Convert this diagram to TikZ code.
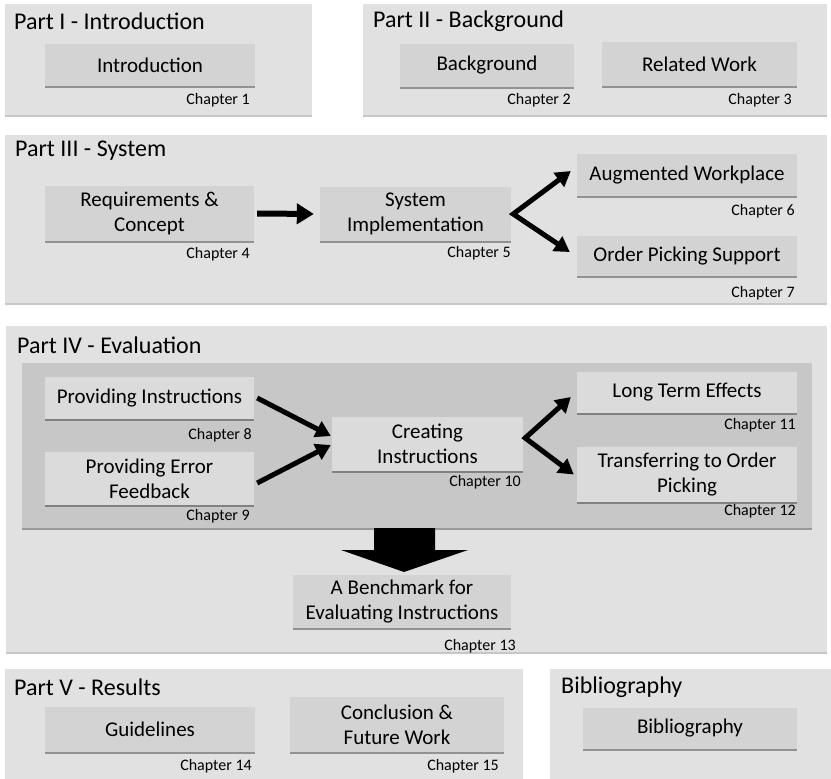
\documentclass[tikz,border=0pt]{standalone}
\usepackage{fontspec}
\setmainfont{Carlito}
\usetikzlibrary{shadows,arrows.meta}

\definecolor{panelgray}{HTML}{E1E1E1}
\definecolor{boxgray}{HTML}{D3D3D3}
\definecolor{innergray}{HTML}{C7C7C7}
\definecolor{innerbox}{HTML}{DBDBDB}

\newcommand\pnTitleFont{\fontsize{24}{28}\selectfont}
\newcommand\pnBoxFont{\fontsize{21}{25}\selectfont}
\newcommand\pnChapFont{\fontsize{16}{19}\selectfont}

\tikzset{
  panel/.style={fill=panelgray, draw=none, anchor=north west, inner sep=0pt,
    drop shadow={shadow xshift=0pt, shadow yshift=-2pt, fill=black, opacity=0.22}},
  darkpanel/.style={panel, fill=innergray,
    drop shadow={shadow xshift=0pt, shadow yshift=-2pt, fill=black, opacity=0.12}},
  chapbox/.style={fill=boxgray, draw=none, align=center, inner sep=0pt,
    font=\pnBoxFont,
    drop shadow={shadow xshift=0pt, shadow yshift=-2pt, fill=black, opacity=0.35}},
  evalbox/.style={chapbox, fill=innerbox},
  chaplabel/.style={anchor=east, font=\pnChapFont, inner sep=0pt},
  parttitle/.style={anchor=west, font=\pnTitleFont, inner sep=0pt},
  flow/.style={line width=5pt, line join=miter, -{Triangle[length=15pt,width=17pt]}},
  forkflow/.style={line width=5pt, line join=miter,
    {Triangle[length=15pt,width=17pt]}-{Triangle[length=15pt,width=17pt]}},
}

\begin{document}
\begin{tikzpicture}[x=1pt,y=-1pt]
\useasboundingbox (0,0) rectangle (831,779);
\fill[white] (0,0) rectangle (831,779);

% ---------- Part I ----------
\node[panel, minimum width=307pt, minimum height=111pt] (p1) at (5,4) {};
\node[parttitle] (p1t) at (14,21) {Part I - Introduction};
\node[chapbox, minimum width=210pt, minimum height=42pt] (intro) at (150,65) {Introduction};
\node[chaplabel] (c1) at (250,100) {Chapter 1};

% ---------- Part II ----------
\node[panel, minimum width=464pt, minimum height=111pt] (p2) at (363,4) {};
\node[parttitle] (p2t) at (373,21) {Part II - Background};
\node[chapbox, minimum width=174pt, minimum height=43pt] (bg) at (487,65) {Background};
\node[chapbox, minimum width=195pt, minimum height=44pt] (rw) at (699.5,64) {Related Work};
\node[chaplabel] (c2) at (571,100) {Chapter 2};
\node[chaplabel] (c3) at (792,100) {Chapter 3};

% ---------- Part III ----------
\node[panel, minimum width=822pt, minimum height=168pt] (p3) at (5,135) {};
\node[parttitle] (p3t) at (15,151) {Part III - System};
\node[chapbox, minimum width=209pt, minimum height=55pt] (req) at (149.5,213.5) {Requirements \&\\Concept};
\node[chapbox, minimum width=191pt, minimum height=54pt] (sys) at (415.5,214) {System\\Implementation};
\node[chapbox, minimum width=220pt, minimum height=42pt] (aug) at (687,175) {Augmented Workplace};
\node[chapbox, minimum width=220pt, minimum height=40pt] (ord) at (687,256) {Order Picking Support};
\node[chaplabel] (c4) at (250,254) {Chapter 4};
\node[chaplabel] (c5) at (511,253) {Chapter 5};
\node[chaplabel] (c6) at (795,211) {Chapter 6};
\node[chaplabel] (c7) at (795,293) {Chapter 7};

\draw[flow, line width=6pt, -{Triangle[length=17pt,width=20pt]}, shorten <=3pt, shorten >=6pt] (req.east) -- (sys.west);
\coordinate (sysfork) at ([xshift=2pt]sys.east);
\coordinate (augtip) at ([xshift=-6pt,yshift=4pt]aug.west);
\coordinate (ordtip) at ([xshift=-7pt,yshift=4pt]ord.west);
\draw[forkflow] (augtip) -- (sysfork) -- (ordtip);

% ---------- Part IV ----------
\node[panel, minimum width=821pt, minimum height=326pt] (p4) at (6,326) {};
\node[parttitle] (p4t) at (17,345) {Part IV - Evaluation};
\node[darkpanel, minimum width=790pt, minimum height=165pt] (inner) at (22,363) {};
\node[evalbox, minimum width=209pt, minimum height=42pt] (prov) at (149.5,398) {Providing Instructions};
\node[evalbox, minimum width=209pt, minimum height=53pt] (err) at (149.5,478.5) {Providing Error\\Feedback};
\node[evalbox, minimum width=191pt, minimum height=54pt] (create) at (427.5,444) {Creating\\Instructions};
\node[evalbox, minimum width=220pt, minimum height=41pt] (long) at (687,392.5) {Long Term Effects};
\node[evalbox, minimum width=220pt, minimum height=55pt] (trans) at (687,474.5) {Transferring to Order\\Picking};
\node[chaplabel] (c8) at (252,435) {Chapter 8};
\node[chaplabel] (c9) at (250,516) {Chapter 9};
\node[chaplabel] (c10) at (521,482) {Chapter 10};
\node[chaplabel] (c11) at (796,425) {Chapter 11};
\node[chaplabel] (c12) at (796,511) {Chapter 12};

\draw[flow] ([xshift=3pt]prov.east) -- ([xshift=-1pt,yshift=8pt]create.west);
\draw[flow] ([xshift=3pt,yshift=-4.5pt]err.east) -- ([xshift=-1pt,yshift=-1pt]create.west);
\coordinate (createfork) at ([xshift=2pt,yshift=6pt]create.east);
\coordinate (longtip) at ([xshift=-6pt,yshift=-4.5pt]long.west);
\coordinate (transtip) at ([xshift=-3pt,yshift=0pt]trans.west);
\draw[forkflow] (longtip) -- (createfork) -- (transtip);

% block arrow down to the benchmark
\node[evalbox, fill=boxgray, minimum width=218pt, minimum height=53pt] (bench) at (402,601.5) {A Benchmark for\\Evaluating Instructions};
\node[chaplabel] (c13) at (516,646) {Chapter 13};
\fill[black] (374,528) -- (435,528) -- (435,550) -- (468,550) -- (404,572)
  -- (341,550) -- (374,550) -- cycle;

% ---------- Part V ----------
\node[panel, minimum width=518pt, minimum height=115pt] (p5) at (5,669) {};
\node[parttitle] (p5t) at (14,687) {Part V - Results};
\node[chapbox, minimum width=210pt, minimum height=45pt] (guide) at (150,729.5) {Guidelines};
\node[chapbox, minimum width=214pt, minimum height=55pt] (concl) at (397,724.5) {Conclusion \&\\Future Work};
\node[chaplabel] (c14) at (252,766) {Chapter 14};
\node[chaplabel] (c15) at (499,766) {Chapter 15};

% ---------- Bibliography ----------
\node[panel, minimum width=285pt, minimum height=115pt] (p6) at (550,669) {};
\node[parttitle] (p6t) at (561,687) {Bibliography};
\node[chapbox, minimum width=214pt, minimum height=41pt] (bib) at (690,728.5) {Bibliography};
\end{tikzpicture}
\end{document}
